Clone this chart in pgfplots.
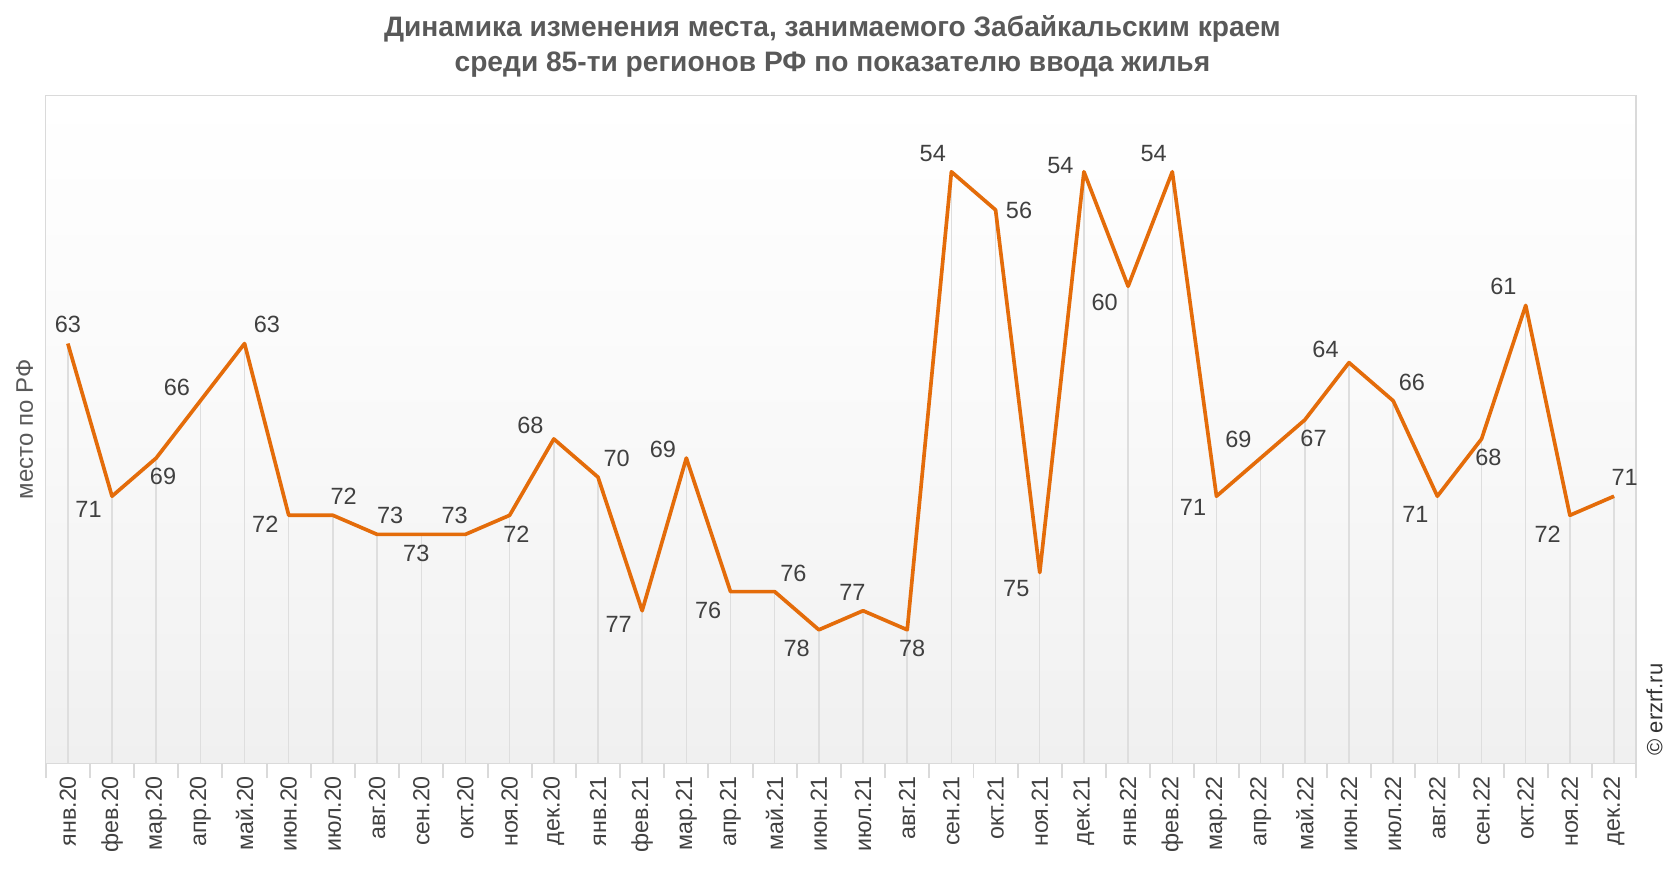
\documentclass[border=0pt]{standalone}
\usepackage{pgfplots}
\usepackage{pgfplotstable}
\usepackage{fontspec}
\setmainfont{Liberation Sans}
\pgfplotsset{compat=1.18}
\definecolor{lineorange}{RGB}{228,108,10}
\definecolor{labelgray}{RGB}{64,64,64}
\definecolor{titlegray}{RGB}{89,89,89}
\definecolor{framegray}{RGB}{218,218,218}
\definecolor{dropgray}{RGB}{222,222,222}
\definecolor{bggray}{RGB}{240,240,240}

% x = month index (0 = янв.20), y = place, e = distance to 85 (drop line), ang = label anchor angle
\pgfplotstableread{
x y e ang
0 63 22 270
1 71 14 30
2 69 16 110
3 66 19 330
4 63 22 220
5 72 13 20
6 72 13 240
7 73 12 235
8 73 12 75
9 73 12 300
10 72 13 110
11 68 17 330
12 70 15 225
13 77 8 30
14 69 16 340
15 76 9 40
16 76 9 225
17 78 7 40
18 77 8 300
19 78 7 105
20 54 31 315
21 56 29 180
22 75 10 35
23 54 31 345
24 60 25 35
25 54 31 315
26 71 14 25
27 69 16 320
28 67 18 115
29 64 21 330
30 66 19 225
31 71 14 40
32 68 17 110
33 61 24 320
34 72 13 40
35 71 14 240
}\datatable

\begin{document}
\begin{tikzpicture}
\begin{axis}[
    name=ax,
    width=650pt, height=273pt, scale only axis,
    xmin=-0.5, xmax=35.5,
    ymin=50, ymax=85, y dir=reverse,
    ytick=\empty,
    xtick={0,...,35},
    xticklabels={янв.20,фев.20,мар.20,апр.20,май.20,июн.20,июл.20,авг.20,сен.20,окт.20,ноя.20,дек.20,
                 янв.21,фев.21,мар.21,апр.21,май.21,июн.21,июл.21,авг.21,сен.21,окт.21,ноя.21,дек.21,
                 янв.22,фев.22,мар.22,апр.22,май.22,июн.22,июл.22,авг.22,сен.22,окт.22,ноя.22,дек.22},
    xtick pos=bottom,
    major tick length=0pt,
    extra x ticks={-0.5,0.5,...,35.5},
    extra x tick labels={},
    extra x tick style={major tick length=6pt, tick align=outside, tick style={draw=framegray, line width=0.8pt}},
    x tick label style={rotate=90, anchor=east, inner sep=5pt, font=\fontsize{9.5}{11}\selectfont, text=labelgray},
    axis line style={draw=framegray, line width=0.6pt},
    axis background/.style={shade, top color=white, bottom color=bggray, middle color=white!60!bggray},
    ylabel={место по РФ},
    every axis y label/.style={at={(axis description cs:0,0.5)}, rotate=90, anchor=south, inner sep=5pt,
        font=\fontsize{9.8}{11}\selectfont, text=titlegray},
    clip=false,
]
% drop lines from each point to the bottom
\addplot[draw=none, error bars/.cd, y dir=plus, y explicit, error mark=none,
    error bar style={draw=dropgray, line width=0.6pt}]
    table[x index=0, y index=1, y error index=2] {\datatable};
% place line
\addplot[lineorange, line width=1.5pt, no markers, line join=round,
    visualization depends on={rawy \as \yv},
    point meta=explicit symbolic,
    nodes near coords={\pgfmathprintnumber[assume math mode=true]{\yv}},
    nodes near coords style={anchor=\pgfplotspointmeta, inner sep=3.5pt, font=\fontsize{9.6}{11}\selectfont, text=labelgray}]
    table[x index=0, y index=1, meta index=3] {\datatable};
\end{axis}
\node[align=center, font=\bfseries\fontsize{11.5}{14.3}\selectfont, text=titlegray]
    at ([xshift=-3.5pt, yshift=20pt]ax.north)
    {Динамика изменения места, занимаемого Забайкальским краем\\среди 85-ти регионов РФ по показателю ввода жилья};
\node[rotate=90, anchor=north west, inner sep=0pt, font=\fontsize{9}{10}\selectfont, text=black!80]
    at ([xshift=4pt, yshift=3pt]ax.south east) {© erzrf.ru};
\pgfresetboundingbox
\useasboundingbox ([xshift=-18.7pt, yshift=-43.8pt]ax.south west) rectangle ([xshift=12.2pt, yshift=39pt]ax.north east);
\end{tikzpicture}
\end{document}
